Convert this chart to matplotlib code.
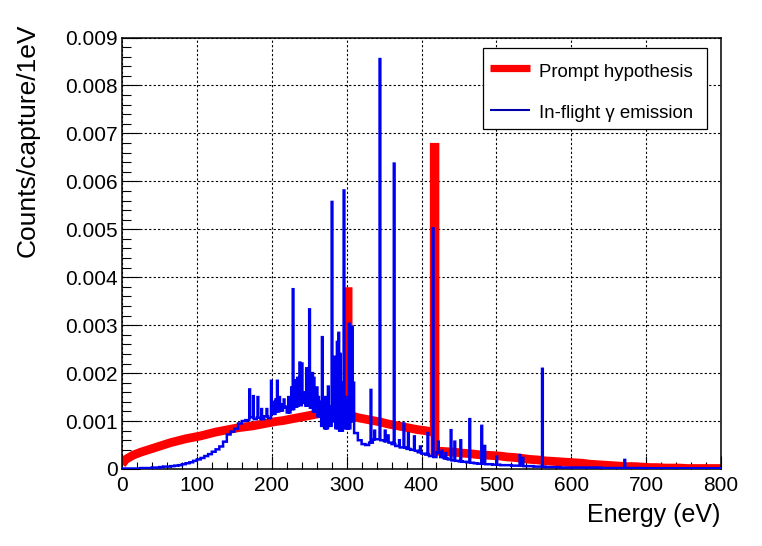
import numpy as np
import matplotlib
matplotlib.use("Agg")
import matplotlib.pyplot as plt
from matplotlib.patches import Rectangle
from matplotlib.lines import Line2D

plt.rcParams['font.family'] = ['Liberation Sans', 'DejaVu Sans']

# ---------------- data (units of 1e-3 counts/capture/1eV) ----------------
# Prompt hypothesis continuum: E = 0, then bin centres 5, 15, ..., 795, then 800
red_cont = [
    0.10,
    0.20, 0.29, 0.35, 0.40, 0.45, 0.50, 0.55, 0.59, 0.63, 0.66,   # 0-100
    0.69, 0.73, 0.77, 0.80, 0.83, 0.86, 0.88, 0.90, 0.93, 0.96,   # 100-200
    0.99, 1.01, 1.04, 1.07, 1.10, 1.13, 1.16, 1.18, 1.20, 1.21,   # 200-300
    1.12, 1.07, 1.04, 1.01, 0.98, 0.94, 0.91, 0.88, 0.85, 0.82,   # 300-400
    0.80, 0.77, 0.37, 0.36, 0.35, 0.33, 0.32, 0.30, 0.29, 0.28,   # 400-500
    0.27, 0.25, 0.24, 0.22, 0.20, 0.19, 0.17, 0.16, 0.15, 0.14,   # 500-600
    0.13, 0.12, 0.10, 0.09, 0.08, 0.07, 0.06, 0.05, 0.05, 0.04,   # 600-700
    0.03, 0.03, 0.02, 0.02, 0.02, 0.01, 0.01, 0.01, 0.01, 0.01,   # 700-800
    0.01,
]
# Prompt lines: 1 eV wide bins (low edge, high edge, height)
red_spike_lo = [301, 417]
red_spike_hi = [302, 418]
red_spike_h = [3.70, 6.71]

# In-flight gamma emission: continuum, one value per 5 eV (0..800)
blue_cont_5ev = [
    0.01, 0.01, 0.01, 0.01, 0.01, 0.02, 0.02, 0.02, 0.03, 0.03,   # 0-50
    0.04, 0.05, 0.05, 0.06, 0.07, 0.08, 0.10, 0.12, 0.14, 0.17,   # 50-100
    0.20, 0.23, 0.27, 0.31, 0.36, 0.41, 0.47, 0.57, 0.72, 0.78,   # 100-150
    0.84, 0.95, 1.00, 1.02, 1.08, 1.04, 1.07, 1.04, 1.10, 1.06,   # 150-200
    1.15, 1.20, 1.22, 1.28, 1.18, 1.25, 1.30, 1.33, 1.38, 1.32,   # 200-250
    1.28, 1.20, 1.10, 0.90, 0.85, 0.90, 1.00, 0.85, 0.80, 0.85,   # 250-300
    0.85, 1.00, 0.75, 0.60, 0.52, 0.50, 0.55, 0.62, 0.62, 0.60,   # 300-350
    0.58, 0.55, 0.52, 0.48, 0.45, 0.45, 0.42, 0.40, 0.38, 0.35,   # 350-400
    0.32, 0.30, 0.27, 0.25, 0.35, 0.25, 0.22, 0.20, 0.18, 0.17,   # 400-450
    0.16, 0.15, 0.14, 0.13, 0.12, 0.11, 0.11, 0.10, 0.10, 0.09,   # 450-500
    0.09, 0.08, 0.08, 0.08, 0.07, 0.07, 0.07, 0.06, 0.06, 0.06,   # 500-550
    0.05, 0.05, 0.05, 0.04, 0.04, 0.04, 0.04, 0.03, 0.03, 0.03,   # 550-600
    0.03, 0.03, 0.03, 0.03, 0.03, 0.03, 0.03, 0.03, 0.02, 0.02,   # 600-650
    0.02, 0.02, 0.02, 0.02, 0.02, 0.02, 0.02, 0.02, 0.02, 0.02,   # 650-700
    0.015, 0.015, 0.015, 0.015, 0.015, 0.015, 0.015, 0.015, 0.015, 0.015,  # 700-750
    0.015, 0.015, 0.015, 0.015, 0.015, 0.015, 0.015, 0.015, 0.015, 0.015,  # 750-800
]
# Discrete lines (1 eV bins): energy (eV) and height
blue_peak_E = [170, 175, 181, 186, 193, 199, 203, 205, 207, 210,
               213, 216, 218, 222, 225, 226, 228, 231, 234, 236,
               237, 240, 243, 246, 248, 250, 252, 254, 256, 258,
               260, 262, 265, 267, 269, 271, 273, 275, 277, 280,
               282, 284, 286, 287, 289, 291, 293, 295, 296, 299,
               301, 303, 305, 307, 309, 332, 337, 344, 351, 355,
               363, 370, 376, 382, 390, 398, 408, 415, 422, 427,
               432, 439, 444, 452, 464, 480, 484, 500, 531, 535,
               561, 671]
blue_peak_h = [1.66, 1.52, 1.50, 1.25, 1.25, 1.84, 1.40, 1.45, 1.84, 1.50,
               1.35, 1.45, 1.30, 1.50, 1.45, 1.70, 3.75, 1.85, 1.90, 1.80,
               2.22, 2.20, 1.60, 2.10, 1.90, 3.33, 1.70, 2.00, 1.90, 1.60,
               1.70, 1.50, 1.40, 2.75, 1.30, 1.50, 1.20, 1.72, 1.30, 5.57,
               1.40, 2.34, 1.60, 2.65, 2.84, 2.40, 1.80, 1.30, 5.81, 1.50,
               1.40, 3.03, 1.60, 2.97, 1.80, 1.65, 0.80, 8.55, 0.80, 0.70,
               6.37, 0.60, 0.95, 0.75, 0.68, 0.47, 0.75, 5.02, 0.57, 0.38,
               0.33, 0.81, 0.57, 0.60, 1.04, 0.90, 0.48, 0.26, 0.29, 0.23,
               2.09, 0.19]

x_ticks = [0, 100, 200, 300, 400, 500, 600, 700, 800]
y_ticks = [0, 0.001, 0.002, 0.003, 0.004, 0.005, 0.006, 0.007, 0.008, 0.009]
y_tick_labels = ['0', '0.001', '0.002', '0.003', '0.004', '0.005',
                 '0.006', '0.007', '0.008', '0.009']

# ---------------- build series ----------------
red_E = np.concatenate([[0], np.arange(5, 800, 10), [800]])
red_x, red_y = [], []
prev_v = None
for e, v in zip(red_E, red_cont):
    for lo, hi, h in zip(red_spike_lo, red_spike_hi, red_spike_h):
        if red_x and red_x[-1] < lo < e:
            red_x += [lo, lo, hi, hi]
            red_y += [prev_v, h, h, v]
    red_x.append(e)
    red_y.append(v)
    prev_v = v
red_y = np.array(red_y) * 1e-3

edges = np.arange(0, 801)
blue = np.repeat(np.array(blue_cont_5ev) * 1e-3, 5)
for e, h in zip(blue_peak_E, blue_peak_h):
    blue[e] = max(blue[e], h * 1e-3)

RED = '#ff0000'
BLUE = '#0000f0'

W, H = 762, 546
fig = plt.figure(figsize=(W / 100, H / 100), dpi=100)
x0, x1, ytop, ybot = 122, 721, 37.5, 469
ax = fig.add_axes([x0 / W, 1 - ybot / H, (x1 - x0) / W, (ybot - ytop) / H])

ax.plot(red_x, red_y, color=RED, lw=6.3, solid_joinstyle='miter',
        solid_capstyle='butt', zorder=2)
ax.stairs(blue, edges, baseline=None, color=BLUE, lw=1.8, zorder=3)

ax.set_xlim(0, 800)
ax.set_ylim(0, 0.009)
ax.set_xticks(x_ticks)
ax.set_xticklabels([str(t) for t in x_ticks])
ax.set_xticks(np.arange(0, 801, 20), minor=True)
ax.set_yticks(y_ticks)
ax.set_yticklabels(y_tick_labels)
ax.set_yticks(np.arange(0, 0.00901, 0.0002), minor=True)

ax.tick_params(axis='both', which='both', direction='in', top=False, right=False,
               width=0.8, colors='black')
ax.tick_params(axis='y', which='major', length=13, pad=3, labelsize=15)
ax.tick_params(axis='y', which='minor', length=6.5)
ax.tick_params(axis='x', which='major', length=9.4, pad=5, labelsize=15)
ax.tick_params(axis='x', which='minor', length=4.7)

ax.set_axisbelow(True)
ax.grid(True, which='major', color='black', linestyle=(0, (2, 2)), linewidth=0.8)
for s in ax.spines.values():
    s.set_linewidth(1.1)

fig.text(27.5 / W, 1 - 140 / H, 'Counts/capture/1eV', rotation=90,
         ha='center', va='center', fontsize=19)
fig.text(720 / W, 1 - 515 / H, 'Energy (eV)', ha='right', va='center', fontsize=18)

# legend (drawn manually)
lx0, ly0, lx1, ly1 = 482.7, 48.3, 707.3, 129.3
fig.add_artist(Rectangle((lx0 / W, 1 - ly1 / H), (lx1 - lx0) / W, (ly1 - ly0) / H,
                         transform=fig.transFigure, facecolor='white',
                         edgecolor='black', linewidth=0.9, zorder=10))
fig.add_artist(Line2D([490 / W, 530 / W], [1 - 68.3 / H] * 2, transform=fig.transFigure,
                      color=RED, lw=5.2, solid_capstyle='butt', zorder=11))
fig.add_artist(Line2D([490 / W, 530 / W], [1 - 110 / H] * 2, transform=fig.transFigure,
                      color='#0000aa', lw=1.5, solid_capstyle='butt', zorder=11))
fig.text(539 / W, 1 - 76.7 / H, 'Prompt hypothesis', ha='left', va='baseline',
         fontsize=13.4, zorder=12)
fig.text(539 / W, 1 - 117.5 / H, 'In-flight \u03b3 emission', ha='left', va='baseline',
         fontsize=13.4, zorder=12)

fig.savefig('out.png', dpi=100, facecolor='white')
